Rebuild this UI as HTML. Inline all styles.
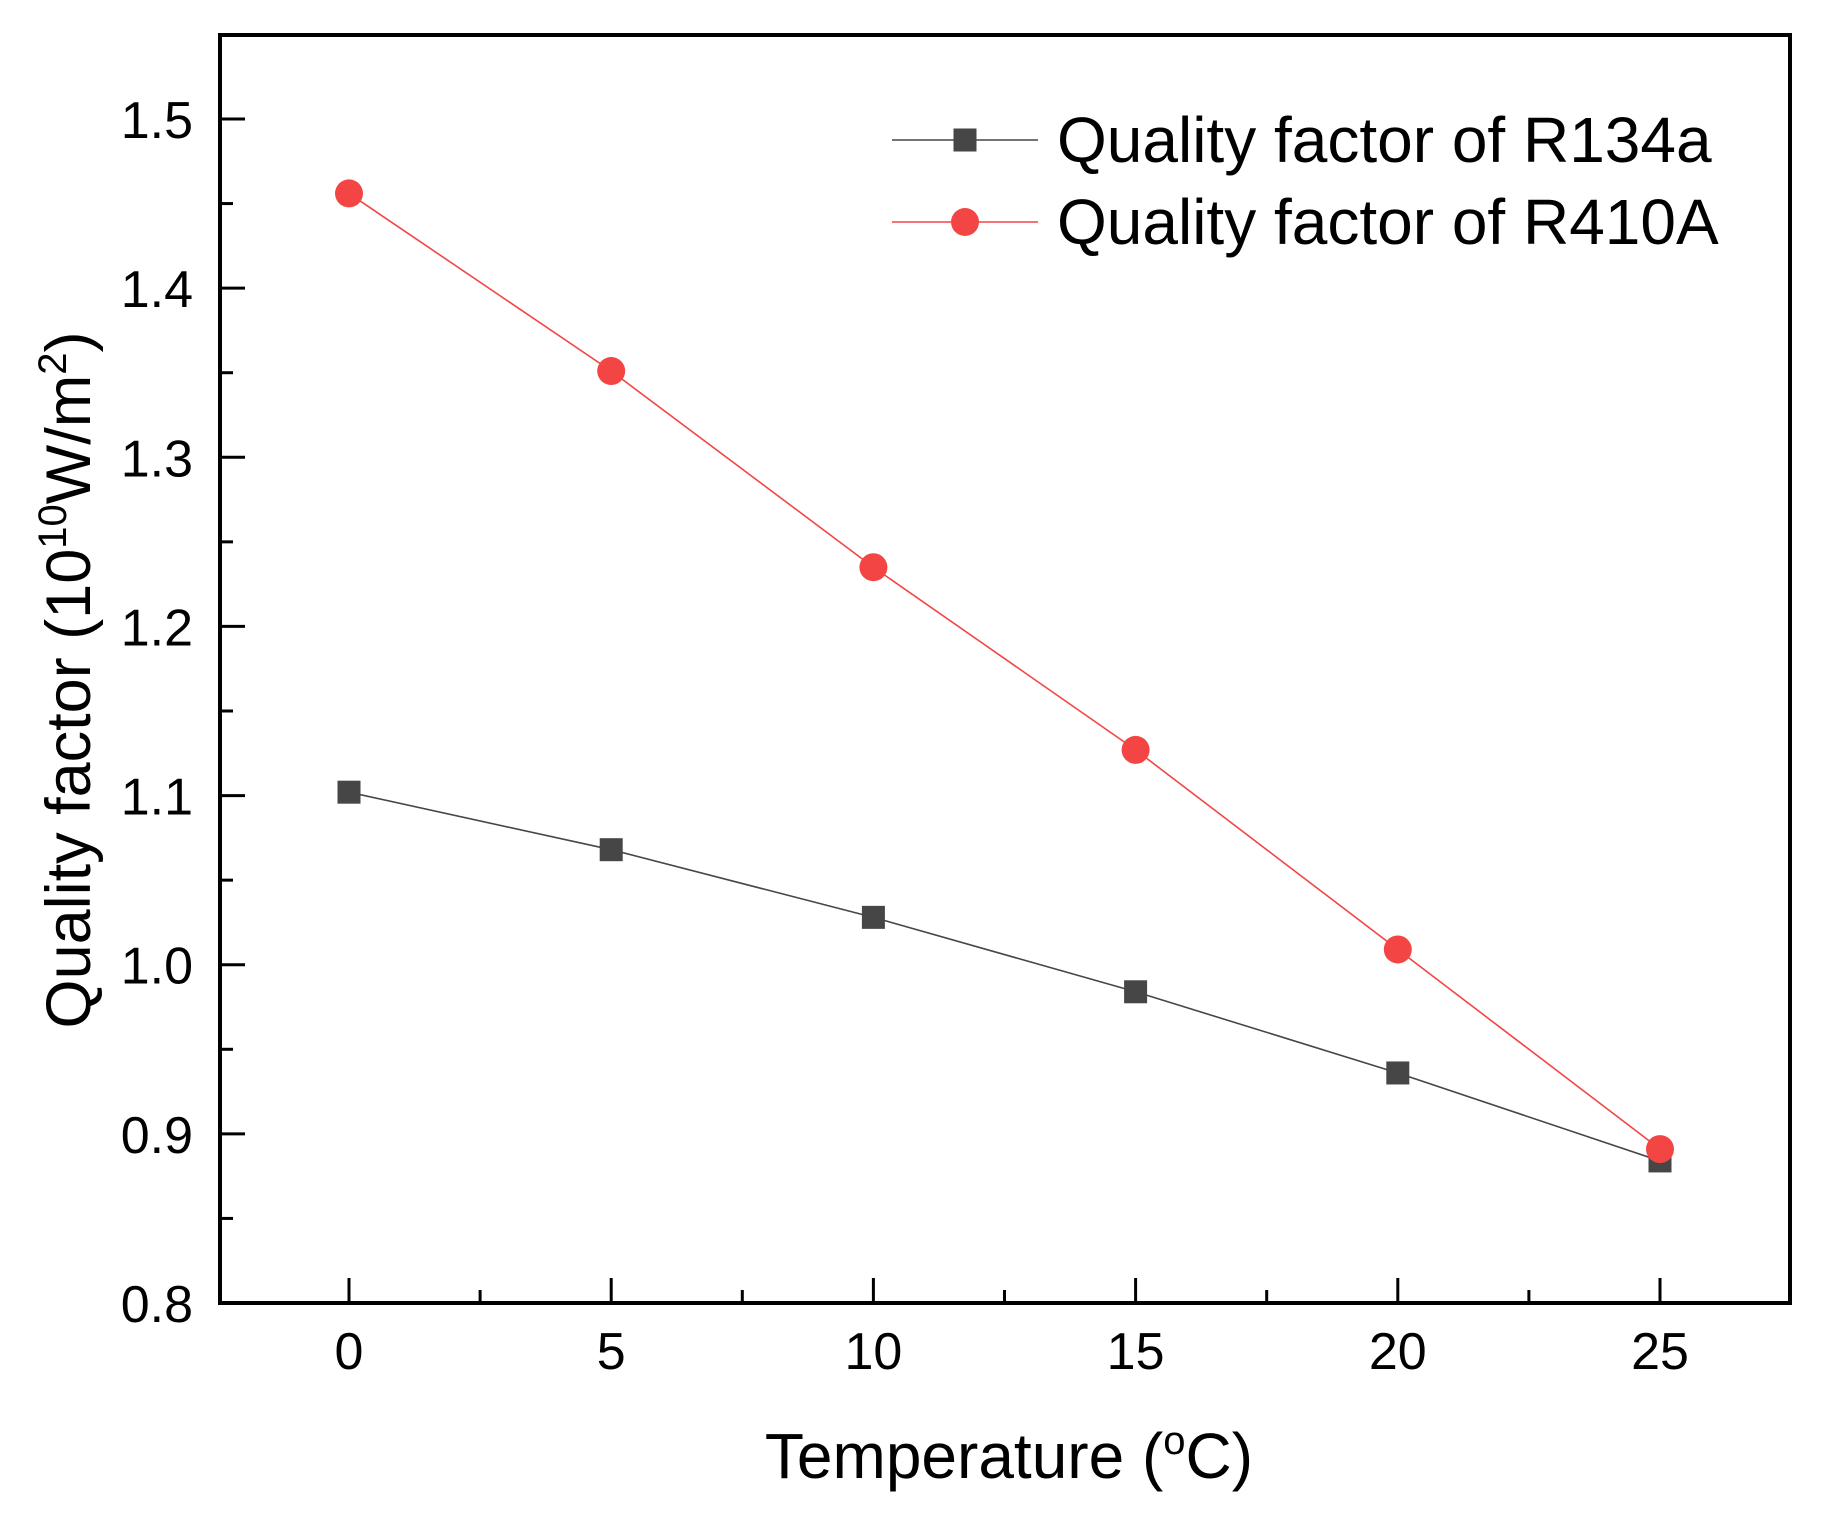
<!DOCTYPE html>
<html><head><meta charset="utf-8"><style>
html,body{margin:0;padding:0;background:#fff;}
svg{display:block;font-family:"Liberation Sans",Arial,sans-serif;}
</style></head><body>
<svg id="chart" width="1826" height="1532" viewBox="0 0 1826 1532">
<g id="plot"></g>
</svg>
<script>
const temps = [0, 5, 10, 15, 20, 25];
const r134a = [1.102, 1.068, 1.028, 0.984, 0.936, 0.884];
const r410a = [1.456, 1.351, 1.235, 1.127, 1.009, 0.891];
const xTicks = [0, 5, 10, 15, 20, 25];
const yTicks = [0.8, 0.9, 1.0, 1.1, 1.2, 1.3, 1.4, 1.5];

const L=220, R=1790, T=35, B=1303;
const X0=349, X25=1660;
function xs(v){return X0+(v-0)*(X25-X0)/25;}
const Y08=1303, Y15=119;
function ys(v){return Y08+(v-0.8)*(Y15-Y08)/0.7;}
const NS="http://www.w3.org/2000/svg";
const svg=document.getElementById('chart');
function mk(tag,attrs,parent){const e=document.createElementNS(NS,tag);for(const k in attrs)e.setAttribute(k,attrs[k]);(parent||svg).appendChild(e);return e;}

const frame=mk('rect',{x:L,y:T,width:R-L,height:B-T,fill:'none',stroke:'#000','stroke-width':4});



xTicks.forEach(v=>{
  const x=xs(v);
  const t=mk('line',{x1:x,y1:B,x2:x,y2:B-25,stroke:'#000','stroke-width':3});
  
  
  const lb=mk('text',{x:x,y:1369,'font-size':52,'text-anchor':'middle'});
  lb.textContent=String(v);
  
  
});
for(let v=2.5; v<27.5; v+=5){
  const x=xs(v);
  const t=mk('line',{x1:x,y1:B,x2:x,y2:B-13,stroke:'#000','stroke-width':3});
  
  
}
yTicks.forEach(v=>{
  const y=ys(v);
  const t=mk('line',{x1:L,y1:y,x2:L+25,y2:y,stroke:'#000','stroke-width':3});
  
  
  const lb=mk('text',{x:193,y:y+19,'font-size':52,'text-anchor':'end'});
  lb.textContent=v.toFixed(1);
  
  
});
for(let v=0.85; v<1.55; v+=0.1){
  const y=ys(v);
  const t=mk('line',{x1:L,y1:y,x2:L+13,y2:y,stroke:'#000','stroke-width':3});
  
  
}

function series(vals,color,shape,name){
  const pts=temps.map((t,i)=>xs(t)+','+ys(vals[i])).join(' ');
  const pl=mk('polyline',{points:pts,fill:'none',stroke:color,'stroke-width':1.6});
  
  
  temps.forEach((t,i)=>{
    let m;
    if(shape==='sq') m=mk('rect',{x:xs(t)-11.5,y:ys(vals[i])-11.5,width:23,height:23,fill:color});
    else m=mk('circle',{cx:xs(t),cy:ys(vals[i]),r:14,fill:color});
    
    
  });
}
series(r134a,'#464646','sq','r134a');
series(r410a,'#f44545','ci','r410a');

const lg1=mk('line',{x1:892,y1:140,x2:1038,y2:140,stroke:'#464646','stroke-width':1.6});


const lm1=mk('rect',{x:953.5,y:128.5,width:23,height:23,fill:'#464646'});


const lt1=mk('text',{x:1057,y:162,'font-size':64});
lt1.textContent='Quality factor of R134a';


const lg2=mk('line',{x1:892,y1:222,x2:1038,y2:222,stroke:'#f44545','stroke-width':1.6});


const lm2=mk('circle',{cx:965,cy:222,r:14,fill:'#f44545'});


const lt2=mk('text',{x:1057,y:244,'font-size':64});
lt2.textContent='Quality factor of R410A';



const xt=mk('text',{x:1009,y:1478,'font-size':64,'text-anchor':'middle'});
xt.innerHTML='Temperature (<tspan font-size="40" dy="-24">o</tspan><tspan dy="24">C)</tspan>';


const yt=mk('text',{x:0,y:0,'font-size':63,'text-anchor':'middle',transform:'translate(90,680) rotate(-90)'});
yt.innerHTML='Quality factor (10<tspan font-size="40" dy="-24">10</tspan><tspan dy="24">W/m</tspan><tspan font-size="40" dy="-24">2</tspan><tspan dy="24">)</tspan>';


</script>
</body></html>
